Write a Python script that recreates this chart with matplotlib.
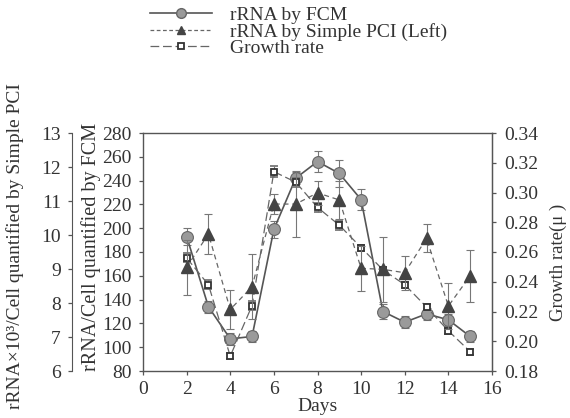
import matplotlib
matplotlib.use("Agg")
import matplotlib.pyplot as plt
from matplotlib.lines import Line2D

plt.rcParams['font.family'] = ['Liberation Serif', 'DejaVu Serif']
TXT = '#333333'
plt.rcParams['text.color'] = TXT
plt.rcParams['axes.labelcolor'] = TXT
plt.rcParams['xtick.color'] = '#555555'
plt.rcParams['ytick.color'] = '#555555'
plt.rcParams['xtick.labelcolor'] = TXT
plt.rcParams['ytick.labelcolor'] = TXT

days = [2, 3, 4, 5, 6, 7, 8, 9, 10, 11, 12, 13, 14, 15]
fcm = [193, 134, 107, 109, 199, 242, 256, 246, 224, 130, 121, 128, 123, 109]
fcm_err = [7, 5, 5, 5, 7, 5, 9, 11, 9, 6, 5, 5, 5, 5]
pci = [9.05, 10.03, 7.81, 8.48, 10.91, 10.91, 11.24, 11.03, 9.02, 8.99, 8.89, 9.90, 7.91, 8.80]
pci_err = [0.80, 0.60, 0.56, 0.95, 0.30, 0.97, 0.35, 0.55, 0.67, 0.95, 0.50, 0.41, 0.67, 0.77]
growth = [0.256, 0.238, 0.190, 0.224, 0.314, 0.307, 0.290, 0.278, 0.263, 0.248, 0.238, 0.223, 0.207, 0.193]
growth_err = [0.003, 0.003, 0.002, 0.003, 0.0035, 0.003, 0.003, 0.003, 0.002, 0.002, 0.002, 0.002, 0.002, 0.002]

xticks = list(range(0, 17, 2))
fcm_ticks = list(range(80, 281, 20))
pci_ticks = list(range(6, 14))
growth_ticks = [0.18, 0.20, 0.22, 0.24, 0.26, 0.28, 0.30, 0.32, 0.34]

W, H = 570, 418
fig = plt.figure(figsize=(W / 100, H / 100), dpi=100)
L, R, T, B = 143, 492, 133, 371
ax = fig.add_axes([L / W, 1 - B / H, (R - L) / W, (B - T) / H])
axg = ax.twinx()
axp = ax.twinx()

FS = 14
SP = '#555555'

# FCM (main)
ax.set_xlim(0, 16)
ax.set_ylim(80, 280)
ax.set_xticks(xticks)
ax.set_yticks(fcm_ticks)
ax.tick_params(axis='both', direction='out', length=3, width=0.9, labelsize=FS)
ax.tick_params(axis='y', pad=5)
ax.tick_params(axis='x', pad=4)
for s in ax.spines.values():
    s.set_color(SP)
    s.set_linewidth(1.0)
ax.errorbar(days, fcm, yerr=fcm_err, color='#555555', lw=1.2, ecolor='#777777',
            elinewidth=0.8, capsize=3, capthick=0.8, marker='o', ms=8.5,
            mfc='#9a9a9a', mec='#666666', mew=0.8, zorder=3)
ax.set_xlabel('Days', fontsize=FS, labelpad=0)
ax.set_ylabel('rRNA/Cell quantified by FCM', fontsize=14.5)
ax.yaxis.set_label_coords((101 - L) / (R - L), 0.52)

# Growth (right)
axg.set_ylim(0.18, 0.34)
axg.set_yticks(growth_ticks)
axg.set_yticklabels([f'{v:.2f}' for v in growth_ticks])
axg.tick_params(axis='y', direction='out', length=3, width=0.9, labelsize=FS, pad=6)
for s in axg.spines.values():
    s.set_color(SP)
axg.spines['left'].set_visible(False)
axg.spines['top'].set_visible(False)
axg.spines['bottom'].set_visible(False)
axg.errorbar(days, growth, yerr=growth_err, color='#666666', lw=0.9, ls=(0, (7, 3)),
             ecolor='#777777', elinewidth=0.8, capsize=3, capthick=0.8, marker='s', ms=5,
             mfc='white', mec='#333333', mew=1.3, zorder=4)
axg.set_ylabel('Growth rate(μ )', fontsize=13.5)
axg.yaxis.set_label_coords((550 - L) / (R - L), 0.458)

# PCI (far left)
axp.set_ylim(6, 13)
axp.set_yticks(pci_ticks)
axp.spines['left'].set_position(('axes', (72 - L) / (R - L)))
axp.spines['left'].set_visible(True)
axp.spines['right'].set_visible(False)
axp.spines['top'].set_visible(False)
axp.spines['bottom'].set_visible(False)
axp.spines['left'].set_color(SP)
axp.yaxis.set_ticks_position('left')
axp.yaxis.set_label_position('left')
axp.tick_params(axis='y', direction='out', length=3, width=0.9, labelsize=FS, pad=5)
axp.errorbar(days, pci, yerr=pci_err, color='#666666', lw=0.9, ls=(0, (4, 3)),
             ecolor='#777777', elinewidth=0.8, capsize=3, capthick=0.8, marker='^', ms=8,
             mfc='#444444', mec='#444444', zorder=5)
axp.set_ylabel('rRNA×10³/Cell quantified by Simple PCI', fontsize=14)
axp.yaxis.set_label_coords((24 - L) / (R - L), 0.525)

h1 = Line2D([], [], color='#555555', lw=1.2, marker='o', ms=7, mfc='#9a9a9a', mec='#666666')
h2 = Line2D([], [], color='#666666', lw=0.9, ls=(0, (3, 2)), marker='^', ms=6, mfc='#444444', mec='#444444')
h3 = Line2D([], [], color='#666666', lw=0.9, ls=(0, (7, 3)), marker='s', ms=4.5, mfc='white', mec='#333333', mew=1.3)
fig.legend([h1, h2, h3], ['rRNA by FCM', 'rRNA by Simple PCI (Left)', 'Growth rate'],
           loc='upper left', bbox_to_anchor=(150 / W, 1 - 6 / H), frameon=False,
           fontsize=14, handlelength=3.2, handletextpad=0.9, labelspacing=-0.05,
           borderpad=0, borderaxespad=0)

fig.savefig('out.png', dpi=100)
